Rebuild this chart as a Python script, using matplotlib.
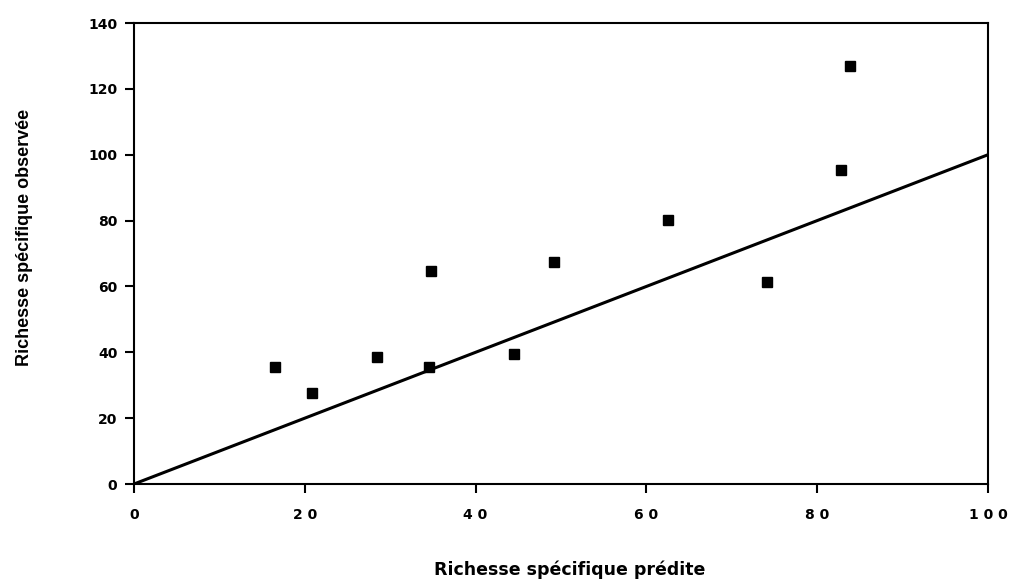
import matplotlib
matplotlib.use("Agg")
import matplotlib.pyplot as plt

# predicted vs observed species richness
predicted = [16.5, 20.9, 28.5, 34.8, 34.6, 44.5, 49.2, 62.5, 74.1, 82.8, 83.9]
observed = [35.5, 27.6, 38.6, 64.7, 35.5, 39.5, 67.4, 80.2, 61.3, 95.4, 126.9]

line_x = [0, 100]
line_y = [0, 100]

x_ticks = [0, 20, 40, 60, 80, 100]
x_labels = ["0", "2 0", "4 0", "6 0", "8 0", "1 0 0"]
y_ticks = [0, 20, 40, 60, 80, 100, 120, 140]

plt.rcParams["font.family"] = ["Liberation Sans", "DejaVu Sans"]

fig = plt.figure(figsize=(10.13, 5.83), dpi=100)
ax = fig.add_axes([0.1323, 0.1698, 0.9753 - 0.1323, 0.9605 - 0.1698])

ax.plot(line_x, line_y, color="black", linewidth=2.2)
ax.plot(predicted, observed, linestyle="none", marker="s", markersize=7.3,
        color="black")

ax.set_xlim(0, 100)
ax.set_ylim(0, 140)
ax.set_xticks(x_ticks)
ax.set_xticklabels(x_labels)
ax.set_yticks(y_ticks)
for lbl in ax.get_xticklabels() + ax.get_yticklabels():
    lbl.set_fontfamily("DejaVu Sans")
    lbl.set_fontweight("bold")
    lbl.set_fontsize(10)
ax.tick_params(direction="out", length=6.5, width=1.5)
ax.tick_params(axis="x", pad=10.5)
ax.tick_params(axis="y", pad=5.5)
for sp in ax.spines.values():
    sp.set_linewidth(1.5)

fig.text(0.562, 0.022, "Richesse spécifique prédite", ha="center", va="center",
         fontsize=12.5, fontweight="bold", family="DejaVu Sans")
fig.text(0.024, 0.593, "Richesse spécifique observée", ha="center", va="center",
         rotation=90, fontsize=13, fontweight="bold")

fig.savefig("out.png", dpi=100)
